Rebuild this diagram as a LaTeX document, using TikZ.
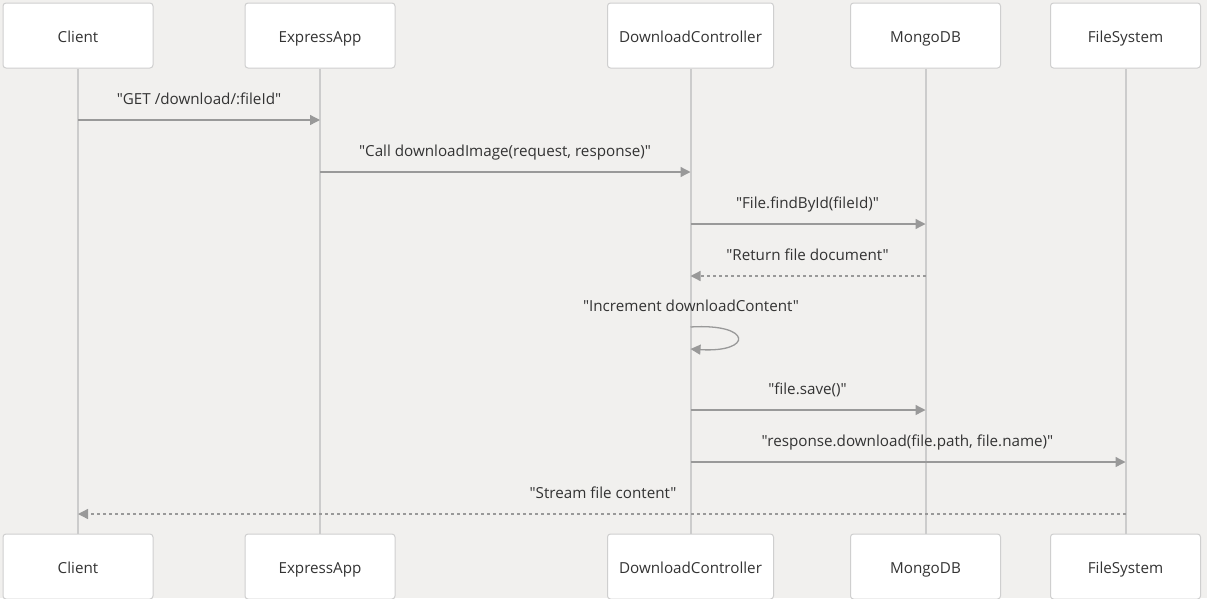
\documentclass[tikz,border=0pt]{standalone}
\usepackage{fontspec}
\setmainfont{Open Sans}
\newfontfamily\ofont{Open Sans}
\usetikzlibrary{arrows.meta}
\definecolor{bgc}{HTML}{F1F0EE}
\definecolor{boxborder}{HTML}{CFCFCF}
\definecolor{lifec}{HTML}{CCCCCC}
\definecolor{msgc}{HTML}{999999}
\definecolor{txtc}{HTML}{333333}
\tikzset{
  actor/.style={draw=boxborder, line width=1pt, fill=white, rounded corners=3pt,
    minimum width=150pt, minimum height=65pt, inner sep=0pt, text=txtc,
    text height=13pt, text depth=0pt,
    font=\ofont\fontsize{15.2}{18}\selectfont},
  lifeline/.style={draw=lifec, line width=2pt},
  msg/.style={draw=msgc, line width=1.3pt, -{Triangle[length=10pt,width=10pt]}, msgc},
  reply/.style={msg, dash pattern=on 3pt off 3pt},
  lbl/.style={text=txtc, font=\ofont\fontsize{15.2}{18}\selectfont, inner sep=0pt, anchor=base}
}
\begin{document}
\begin{tikzpicture}[x=1pt,y=-1pt]
\fill[bgc] (0,0) rectangle (1207,598);
\useasboundingbox (0,0) rectangle (1207,598);
% top actors
\node[actor] (cT) at (78,35.5) {Client};
\node[actor] (eT) at (320,35.5) {ExpressApp};
\node[actor, minimum width=166pt] (dT) at (690.5,35.5) {DownloadController};
\node[actor] (mT) at (925.5,35.5) {MongoDB};
\node[actor] (fT) at (1125.5,35.5) {FileSystem};
% bottom actors
\node[actor] (cB) at (78,566.5) {Client};
\node[actor] (eB) at (320,566.5) {ExpressApp};
\node[actor, minimum width=166pt] (dB) at (690.5,566.5) {DownloadController};
\node[actor] (mB) at (925.5,566.5) {MongoDB};
\node[actor] (fB) at (1125.5,566.5) {FileSystem};
% lifelines
\draw[lifeline] (cT.south) -- (cB.north);
\draw[lifeline] (eT.south) -- (eB.north);
\draw[lifeline] (dT.south) -- (dB.north);
\draw[lifeline] (mT.south) -- (mB.north);
\draw[lifeline] (fT.south) -- (fB.north);
% message anchor points
\coordinate (c1) at (78,120);   \coordinate (e1) at (320,120);
\coordinate (e2) at (320,172);  \coordinate (d2) at (690.5,172);
\coordinate (d3) at (690.5,224);  \coordinate (m3) at (925.5,224);
\coordinate (m4) at (925.5,276);  \coordinate (d4) at (690.5,276);
\coordinate (d5a) at (690.5,327); \coordinate (d5b) at (690.5,349);
\coordinate (d6) at (690.5,410);  \coordinate (m6) at (925.5,410);
\coordinate (d7) at (690.5,462);  \coordinate (f7) at (1125.5,462);
\coordinate (f8) at (1125.5,514); \coordinate (c8) at (78,514);
% messages
\draw[msg] (c1) -- (e1);
\node[lbl] (l1) at (199,104) {"GET /download/:fileId"};
\draw[msg] (e2) -- (d2);
\node[lbl] (l2) at (505,156) {"Call downloadImage(request, response)"};
\draw[msg] (d3) -- (m3);
\node[lbl] (l3) at (807.5,208) {"File.findById(fileId)"};
\draw[reply] (m4) -- (d4);
\node[lbl] (l4) at (807.5,260) {"Return file document"};
\draw[msg] (d5a) .. controls (753,323) and (753,353) .. (d5b);
\node[lbl] (l5) at (691,311) {"Increment downloadContent"};
\draw[msg] (d6) -- (m6);
\node[lbl] (l6) at (807.5,394) {"file.save()"};
\draw[msg] (d7) -- (f7);
\node[lbl] (l7) at (907.5,446) {"response.download(file.path, file.name)"};
\draw[reply] (f8) -- (c8);
\node[lbl] (l8) at (603,498) {"Stream file content"};
\end{tikzpicture}
\end{document}
